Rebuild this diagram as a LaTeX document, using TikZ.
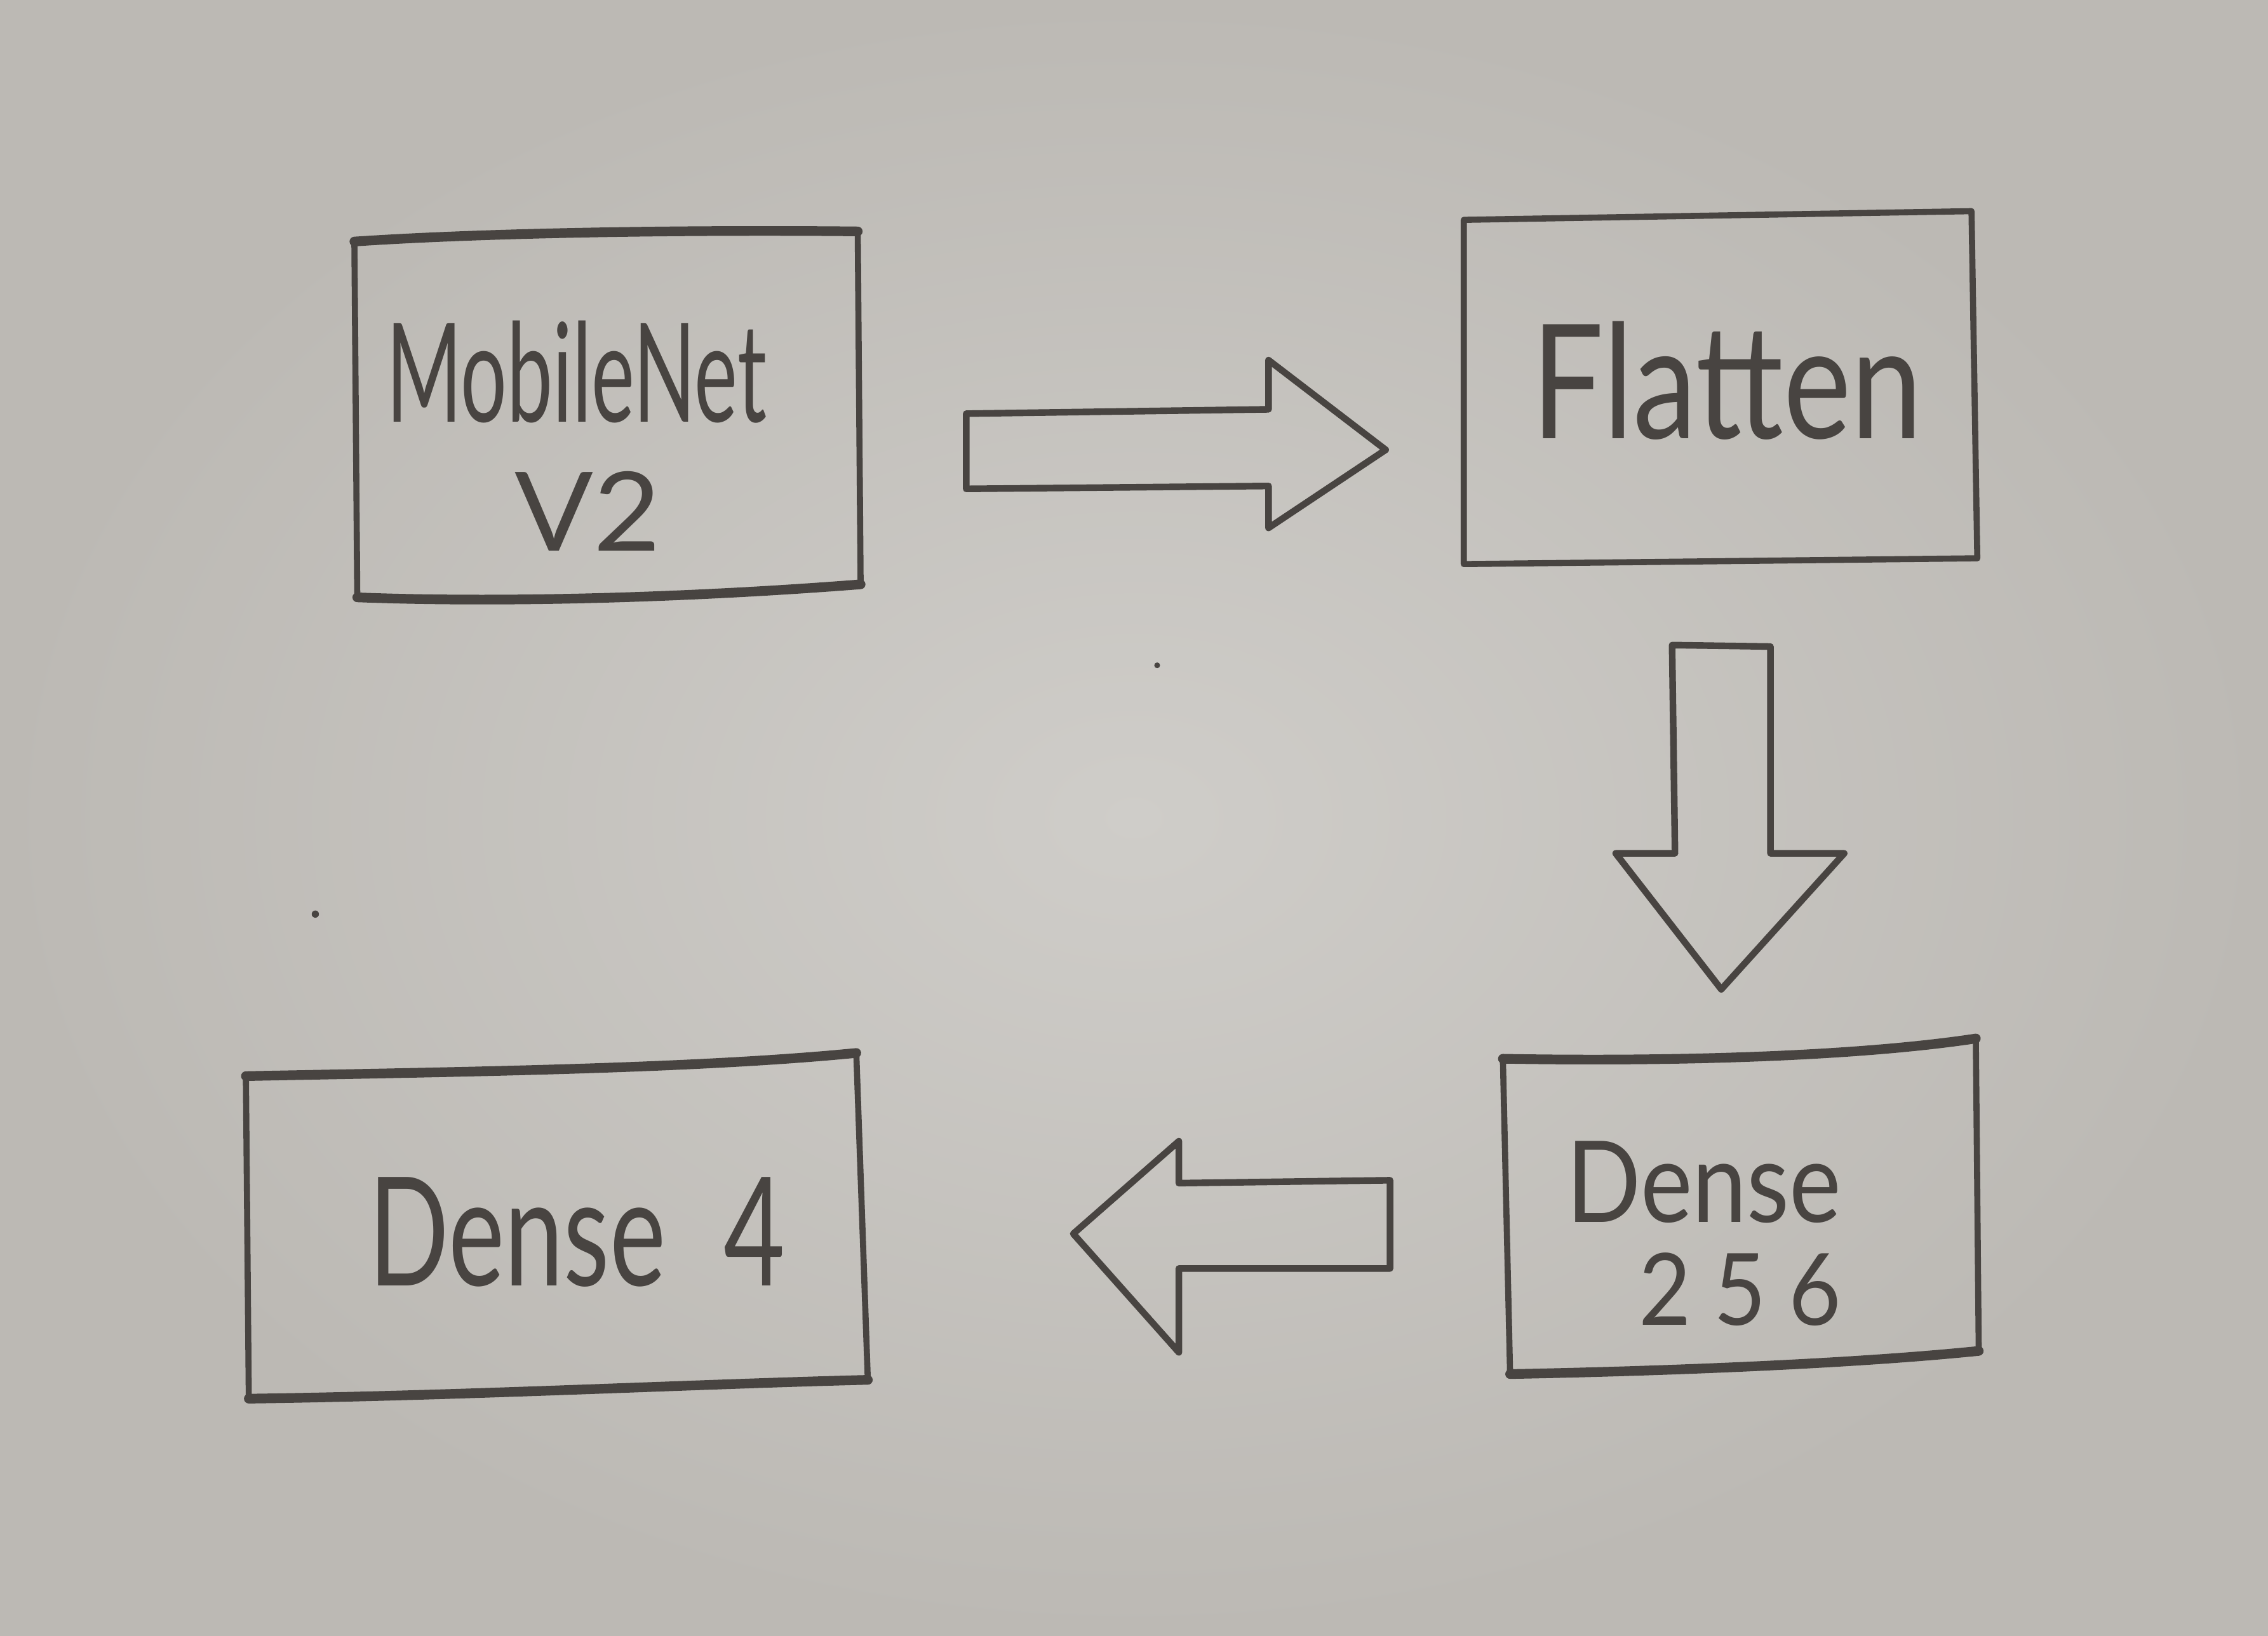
\documentclass[tikz,border=0pt]{standalone}
\usepackage{fontspec}
\setmainfont{Lato}
\usepackage{graphicx}
\definecolor{paperlight}{RGB}{207,205,201}
\definecolor{paperdark}{RGB}{188,185,180}
\definecolor{pencil}{RGB}{72,68,65}
\newcommand{\sketchtext}[3]{\resizebox{#1}{#2}{#3}}
\tikzset{
  sketchline/.style={draw=pencil, line width=1.2pt, line join=round, line cap=round},
  heavyline/.style={draw=pencil, line width=1.9pt, line join=round, line cap=round},
  blockarrow/.style={draw=pencil, line width=1.3pt, line join=round, line cap=round},
  label/.style={anchor=base west, inner sep=0pt, outer sep=0pt, text=pencil}
}
\begin{document}
\begin{tikzpicture}
\useasboundingbox (0,0) rectangle (15.68,11.31);
\shade[inner color=paperlight, outer color=paperdark] (0,0) rectangle (15.68,11.31);

% ---------- MobileNet V2 box ----------
\draw[sketchline] (2.45,9.64) -- (2.47,7.18);
\draw[sketchline] (5.93,9.71) -- (5.95,7.26);
\draw[heavyline] (2.45,9.64) .. controls (3.5,9.71) and (5,9.72) .. (5.93,9.71);
\draw[heavyline] (2.47,7.18) .. controls (3.5,7.14) and (4.8,7.18) .. (5.95,7.27);
\node[label] (mn1) at (2.67,8.39) {\sketchtext{2.63cm}{0.70cm}{MobileNet}};
\node[label] (mn2) at (3.56,7.50) {\sketchtext{1.01cm}{0.55cm}{V2}};

% ---------- Flatten box ----------
\draw[sketchline] (10.12,9.79) -- (13.63,9.85) -- (13.67,7.45) -- (10.12,7.41) -- cycle;
\node[label] (flat) at (10.59,8.28) {\sketchtext{2.70cm}{0.81cm}{Flatten}};

% ---------- Dense 256 box ----------
\draw[sketchline] (10.39,4.00) -- (10.44,1.81);
\draw[sketchline] (13.66,4.12) -- (13.68,1.97);
\draw[heavyline] (10.39,3.99) .. controls (11.5,3.97) and (12.8,4.00) .. (13.66,4.13);
\draw[heavyline] (10.44,1.81) .. controls (11.5,1.83) and (12.8,1.88) .. (13.68,1.97);
\node[label] (d256a) at (10.83,2.86) {\sketchtext{1.90cm}{0.56cm}{Dense}};
\node[label] (d256b) at (11.33,2.15) {\sketchtext{1.40cm}{0.50cm}{2\hspace{0.25em}5\hspace{0.25em}6}};

% ---------- Dense 4 box ----------
\draw[sketchline] (1.70,3.87) -- (1.72,1.65);
\draw[sketchline] (5.92,4.03) -- (6.00,1.76);
\draw[heavyline] (1.70,3.87) .. controls (3.2,3.90) and (4.8,3.92) .. (5.92,4.03);
\draw[heavyline] (1.72,1.64) .. controls (3.2,1.66) and (4.8,1.74) .. (6.00,1.77);
\node[label] (d4) at (2.55,2.42) {\sketchtext{2.88cm}{0.75cm}{Dense\hspace{0.55em}4}};

% ---------- block arrows ----------
\draw[blockarrow] (6.68,8.45) -- (8.77,8.48) -- (8.77,8.82) -- (9.58,8.20)
  -- (8.77,7.66) -- (8.77,7.95) -- (6.68,7.93) -- cycle;
\draw[blockarrow] (11.56,6.85) -- (12.24,6.84) -- (12.24,5.41) -- (12.75,5.41)
  -- (11.90,4.47) -- (11.17,5.41) -- (11.58,5.41) -- cycle;
\draw[blockarrow] (9.61,3.15) -- (9.61,2.54) -- (8.15,2.54) -- (8.15,1.96)
  -- (7.42,2.78) -- (8.15,3.42) -- (8.15,3.13) -- cycle;

% ---------- stray pencil dots ----------
\fill[pencil] (8.00,6.71) circle (0.02);
\fill[pencil] (2.18,4.99) circle (0.025);
\end{tikzpicture}
\end{document}
